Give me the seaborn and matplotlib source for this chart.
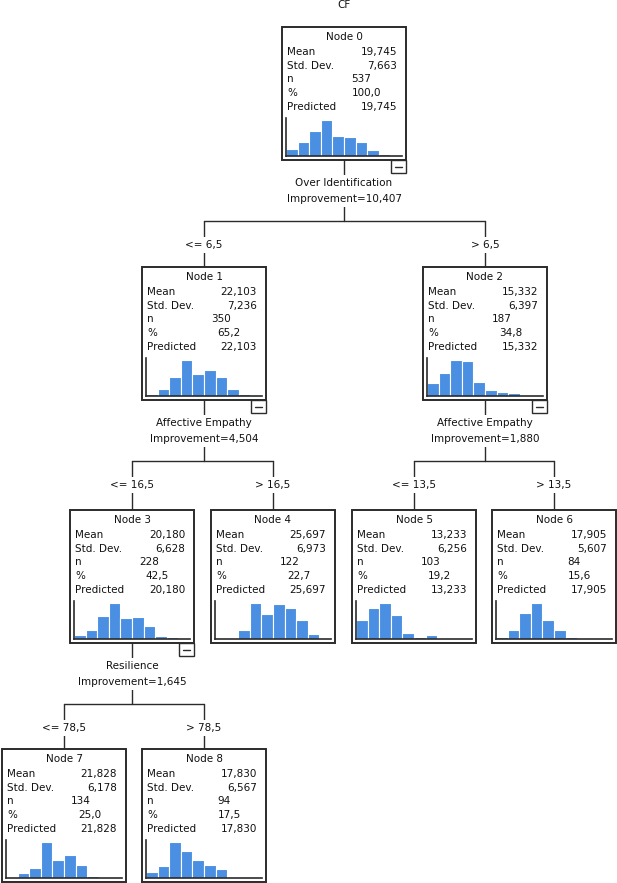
import matplotlib
matplotlib.use("Agg")
import matplotlib.pyplot as plt
from matplotlib.patches import Rectangle
import seaborn as sns

# ---------------- DATA ----------------
node_ids = [0, 1, 2, 3, 4, 5, 6, 7, 8]
node_mean = [19.745, 22.103, 15.332, 20.180, 25.697, 13.233, 17.905, 21.828, 17.830]
node_sd = [7.663, 7.236, 6.397, 6.628, 6.973, 6.256, 5.607, 6.178, 6.567]
node_n = [537, 350, 187, 228, 122, 103, 84, 134, 94]
node_pct = [100.0, 65.2, 34.8, 42.5, 22.7, 19.2, 15.6, 25.0, 17.5]
node_predicted = node_mean

# histogram counts per node (10 shared bins)
hist_counts = [
    [27, 51, 95, 136, 75, 72, 51, 22, 7, 1],
    [6, 16, 46, 89, 54, 65, 47, 17, 6, 3],
    [18, 32, 51, 49, 20, 8, 5, 4, 0, 0],
    [6, 16, 40, 62, 36, 38, 22, 5, 3, 0],
    [0, 1, 7, 27, 19, 26, 23, 14, 4, 1],
    [16, 26, 30, 20, 5, 2, 3, 1, 0, 0],
    [2, 7, 21, 29, 15, 7, 2, 1, 0, 0],
    [0, 6, 12, 45, 22, 29, 16, 3, 1, 0],
    [5, 9, 28, 21, 14, 10, 7, 0, 0, 0],
]
bin_index = list(range(10))

# splits: parent -> (variable, improvement, children, child labels)
split_parent = [0, 1, 2, 3]
split_variable = ["Over Identification", "Affective Empathy", "Affective Empathy", "Resilience"]
split_improvement = [10.407, 4.504, 1.880, 1.645]
split_children = [(1, 2), (3, 4), (5, 6), (7, 8)]
split_labels = [("<= 6,5", "> 6,5"), ("<= 16,5", "> 16,5"),
                ("<= 13,5", "> 13,5"), ("<= 78,5", "> 78,5")]

title = "CF"

# ---------------- LAYOUT (pixels) ----------------
W, H = 617, 883
BW, BH = 124, 133
box_pos = {0: (282, 27), 1: (142, 267), 2: (423, 267), 3: (70, 510),
           4: (211, 510), 5: (352, 510), 6: (492, 510), 7: (2, 749), 8: (142, 749)}

LINE = "#2b2b2b"
BAR = "#4a8fe2"
FS = 7.5


def fmt(v, d):
    return f"{v:.{d}f}".replace(".", ",")


sns.set_style("white")
plt.rcParams["font.family"] = ["DejaVu Sans"]

fig = plt.figure(figsize=(W / 100, H / 100), dpi=100)
ax = fig.add_axes([0, 0, 1, 1])
ax.set_xlim(0, W)
ax.set_ylim(H, 0)
ax.axis("off")

ax.text(344, 5, title, ha="center", va="center", fontsize=FS, color="#111")

txt_kw = dict(fontsize=FS, color="#111", va="center")

# ---------------- CONNECTORS ----------------
for p, var, imp, (c1, c2), (l1, l2) in zip(split_parent, split_variable,
                                           split_improvement, split_children, split_labels):
    px, py = box_pos[p]
    cx = px + BW / 2
    bottom = py + BH
    yh = bottom + 61
    x1 = box_pos[c1][0] + BW / 2
    x2 = box_pos[c2][0] + BW / 2
    ctop = box_pos[c1][1]
    ax.plot([cx, cx], [bottom, yh], color=LINE, lw=1, zorder=1)
    ax.plot([x1, x2], [yh, yh], color=LINE, lw=1, zorder=1)
    for xc in (x1, x2):
        ax.plot([xc, xc], [yh, ctop], color=LINE, lw=1, zorder=1)
    bb = dict(facecolor="white", edgecolor="none", pad=2.2)
    ax.text(cx, bottom + 23, var, ha="center", bbox=bb, zorder=3, **txt_kw)
    ax.text(cx, bottom + 39, "Improvement=" + fmt(imp, 3), ha="center", bbox=bb, zorder=3, **txt_kw)
    ax.text(x1, yh + 24, l1, ha="center", bbox=bb, zorder=3, **txt_kw)
    ax.text(x2, yh + 24, l2, ha="center", bbox=bb, zorder=3, **txt_kw)

# ---------------- NODES ----------------
for i, nid in enumerate(node_ids):
    bx, by = box_pos[nid]
    ax.add_patch(Rectangle((bx, by), BW, BH, facecolor="white", edgecolor=LINE, lw=1.4, zorder=2))
    ax.text(bx + BW / 2, by + 10, f"Node {nid}", ha="center", zorder=3, **txt_kw)
    rows = [("Mean", fmt(node_mean[i], 3), bx + 115),
            ("Std. Dev.", fmt(node_sd[i], 3), bx + 115),
            ("n", str(node_n[i]), bx + 89),
            ("%", fmt(node_pct[i], 1), bx + 99),
            ("Predicted", fmt(node_predicted[i], 3), bx + 115)]
    for k, (lab, val, xr) in enumerate(rows):
        yy = by + 25 + k * 13.7
        ax.text(bx + 5, yy, lab, ha="left", zorder=3, **txt_kw)
        ax.text(xr, yy, val, ha="right", zorder=3, **txt_kw)

    # histogram inset
    hx0, hy_top, hw, hh = bx + 4, by + 91, 116, 38
    hax = fig.add_axes([hx0 / W, 1 - (hy_top + hh) / H, hw / W, hh / H])
    sns.barplot(x=bin_index, y=hist_counts[i], color=BAR, width=1.0, saturation=1,
                edgecolor="white", linewidth=0.8, ax=hax)
    hax.set_xlim(-0.5, 9.5)
    hax.set_ylim(0, max(hist_counts[i]) * 1.05)
    hax.set_xticks([])
    hax.set_yticks([])
    hax.set_xlabel("")
    hax.set_ylabel("")
    hax.patch.set_alpha(0)
    for s in ("top", "right"):
        hax.spines[s].set_visible(False)
    for s in ("left", "bottom"):
        hax.spines[s].set_color(LINE)
        hax.spines[s].set_linewidth(1.2)

    # collapse button on nodes that are split
    if nid in split_parent:
        mx, my = bx + BW - 15, by + BH
        ax.add_patch(Rectangle((mx, my), 15, 13, facecolor="white", edgecolor=LINE, lw=1, zorder=2))
        ax.plot([mx + 4, mx + 11], [my + 6.5, my + 6.5], color=LINE, lw=1, zorder=3)

fig.savefig("out.png", dpi=100)
plt.close(fig)
